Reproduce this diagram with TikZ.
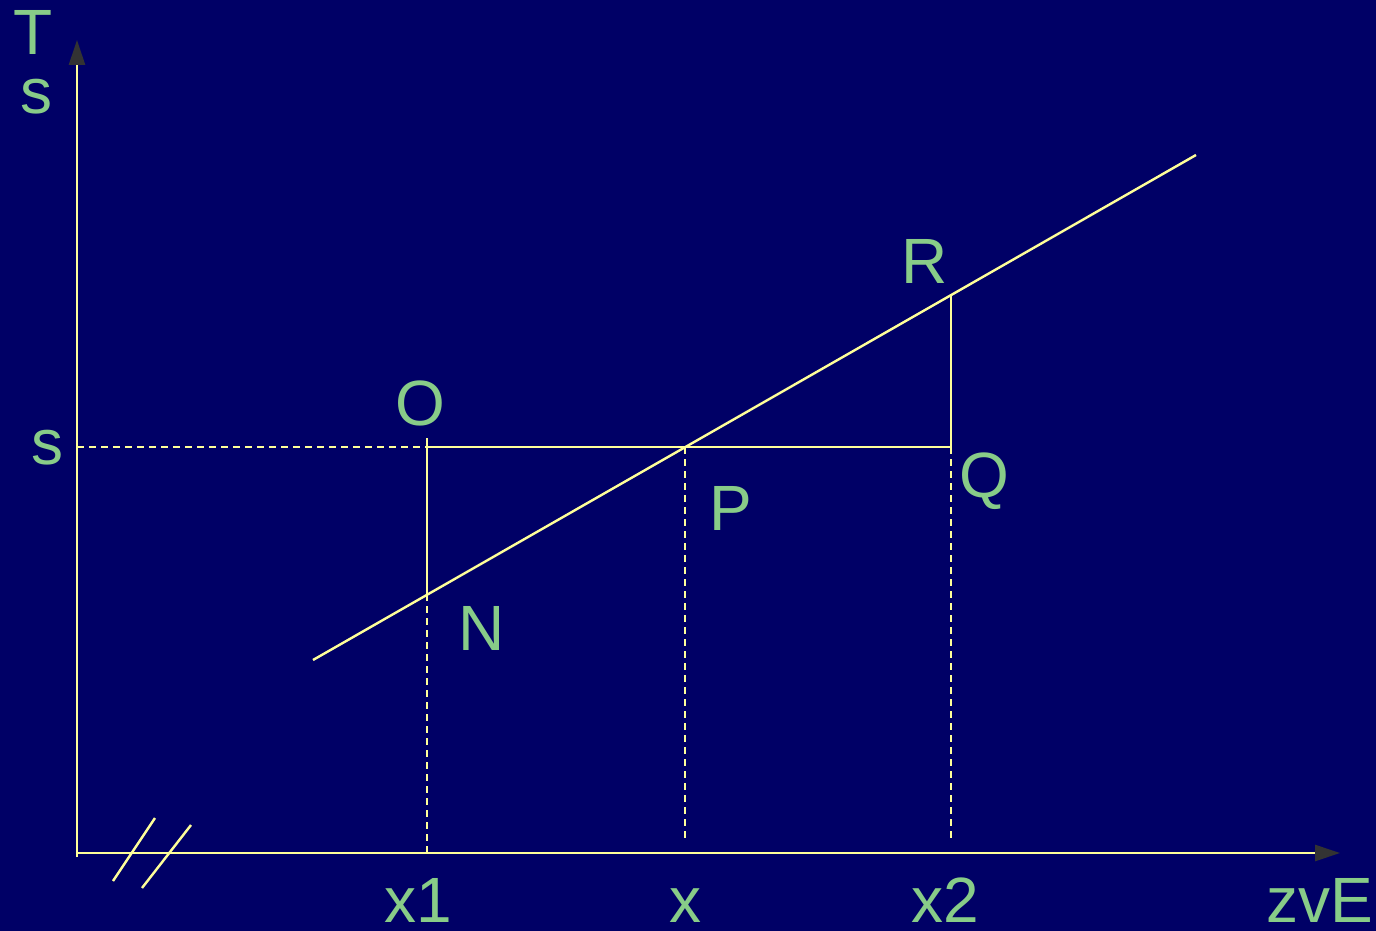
\documentclass[tikz,border=0pt]{standalone}
\usepackage{fontspec}
\setmainfont{Liberation Sans}
\usetikzlibrary{arrows.meta}
\definecolor{NightBlue}{HTML}{000066}
\definecolor{PaleYellow}{HTML}{FFFF99}
\definecolor{SoftGreen}{HTML}{88CC88}
\definecolor{TipGray}{HTML}{333333}

\begin{document}
\begin{tikzpicture}[x=0.5pt,y=-0.5pt,
  lbl/.style={text=SoftGreen,font=\fontsize{32}{38}\selectfont,anchor=base,inner sep=0pt},
  axisline/.style={PaleYellow,line width=1.3pt,-{Triangle[length=12.5pt,width=8pt,color=TipGray]}},
  yline/.style={PaleYellow,line width=1.2pt},
  dline/.style={PaleYellow,line width=1.2pt,dash pattern=on 3.5pt off 2.5pt}]
\fill[NightBlue] (0,0) rectangle (1376,931);
\useasboundingbox (0,0) rectangle (1376,931);
% axes
\coordinate (O0) at (77,857);\coordinate (Ytop) at (77,40);
\coordinate (Xl) at (77,853);\coordinate (Xr) at (1340,853);
\draw[axisline] (O0)--(Ytop);\draw[axisline] (Xl)--(Xr);
\draw[yline] (113,881)--(155,818);\draw[yline] (142,888)--(191,825);
% points
\coordinate (Lo) at (313,660);\coordinate (Hi) at (1196,155);
\coordinate (N) at (427,594);\coordinate (O) at (427,438);\coordinate (Os) at (427,447);
\coordinate (P) at (685,447);\coordinate (R) at (951,295);\coordinate (Q) at (951,447);
\coordinate (Sy) at (77,447);
\coordinate (X1) at (427,857);\coordinate (Xm) at (685,840);\coordinate (X2) at (951,840);
\draw[yline] (Lo)--(Hi);
\draw[yline] (Os)--(Q)--(R);\draw[yline] (O)--(N);
\draw[dline] (Sy)--(Os);\draw[dline] (N)--(X1);\draw[dline] (P)--(Xm);\draw[dline] (Q)--(X2);
% labels
\node[lbl] (lT) at (33,55) {T};\node[lbl] (ls) at (36,113) {s};
\node[lbl] (lsy) at (48,464) {s};
\node[lbl] (lO) at (420,425) {O};\node[lbl] (lR) at (925,283) {R};
\node[lbl] (lQ) at (984,497) {Q};\node[lbl] (lP) at (731,530) {P};
\node[lbl] (lN) at (482,650) {N};
\node[lbl] (lx1) at (418,922) {x1};\node[lbl] (lx) at (685,922) {x};
\node[lbl] (lx2) at (945,922) {x2};\node[lbl] (lzvE) at (1320,922) {zvE};
\end{tikzpicture}
\end{document}
